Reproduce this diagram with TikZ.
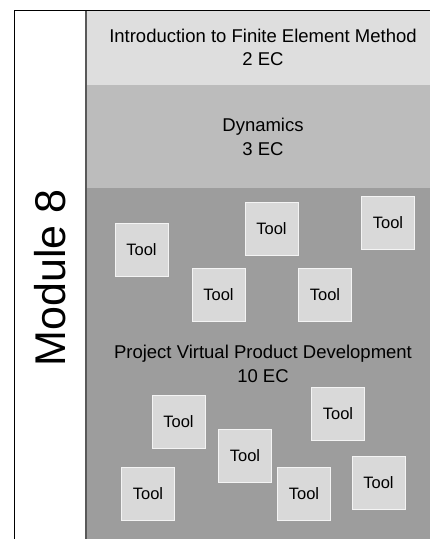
\documentclass[tikz,border=0pt]{standalone}
\usepackage{fontspec}
\setmainfont{Liberation Sans}
\definecolor{introgray}{HTML}{DEDEDE}
\definecolor{dyngray}{HTML}{BCBCBC}
\definecolor{projgray}{HTML}{9D9D9D}
\definecolor{toolgray}{HTML}{D9D9D9}
\begin{document}
\begin{tikzpicture}[x=1pt, y=-1pt, font=\fontsize{18.5}{23.5}\selectfont,
  tool/.style={draw=white!70!toolgray, fill=toolgray, minimum size=53pt, inner sep=0pt, font=\fontsize{16.5}{20}\selectfont}]
  \useasboundingbox (0,0) rectangle (430,539);
  % bands
  \fill[introgray] (86,10.5) rectangle (430,85);
  \fill[dyngray] (86,85) rectangle (430,188);
  \fill[projgray] (86,188) rectangle (430,539);
  \draw[line width=1.3pt] (14.5,539) -- (14.5,10.5) -- (430,10.5);
  \draw[black!65, line width=1.5pt] (86,10.5) -- (86,539);
  \node[rotate=90, font=\fontsize{43}{43}\selectfont] (module) at (50,278) {Module 8};
  \node[align=center] (intro) at (263,47.5) {Introduction to Finite Element Method\\2 EC};
  \node[align=center] (dyn) at (263,137) {Dynamics\\3 EC};
  \node[align=center] (proj) at (263,364) {Project Virtual Product Development\\10 EC};
  % tools
  \node[tool] (t1) at (141.5,250) {Tool}; \node[tool] (t2) at (271.5,228.5) {Tool};
  \node[tool] (t3) at (388,223) {Tool};   \node[tool] (t4) at (218.5,295) {Tool};
  \node[tool] (t5) at (325,295) {Tool};
  \node[tool] (t6) at (178.5,422) {Tool}; \node[tool] (t7) at (338,413.5) {Tool};
  \node[tool] (t8) at (245,456) {Tool};   \node[tool] (t9) at (148,494) {Tool};
  \node[tool] (t10) at (304,494) {Tool};  \node[tool] (t11) at (378.5,483) {Tool};
\end{tikzpicture}
\end{document}
